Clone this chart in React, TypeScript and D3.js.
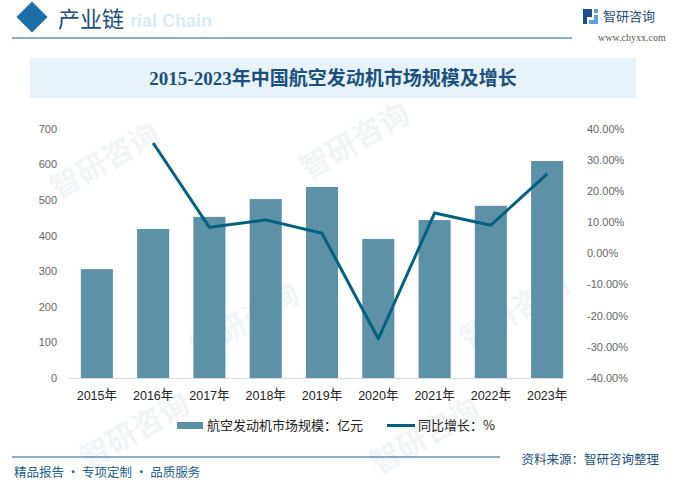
import { useEffect, useRef } from "react";
import * as d3 from "d3";

const YEARS = ["2015年", "2016年", "2017年", "2018年", "2019年", "2020年", "2021年", "2022年", "2023年"];
const MARKET = [306, 419, 453, 503, 537, 391, 444, 484, 610];
const GROWTH: (number | null)[] = [null, 35.5, 8.4, 10.8, 6.5, -27.4, 13.0, 9.1, 25.6];
const LEFT_TICKS = [0, 100, 200, 300, 400, 500, 600, 700];
const RIGHT_TICKS = [-40, -30, -20, -10, 0, 10, 20, 30, 40];

const TITLE = "2015-2023年中国航空发动机市场规模及增长";
const BAR_LABEL = "航空发动机市场规模：亿元";
const LINE_LABEL = "同比增长：%";

const BAR_COLOR = "#5d91a8";
const LINE_COLOR = "#02617f";
const SANS = "'Liberation Sans', 'Noto Sans CJK SC', sans-serif";
const CJK = "'Noto Sans CJK SC', sans-serif";

export default function App() {
  const svgRef = useRef<SVGSVGElement>(null);

  useEffect(() => {
    if (!svgRef.current) return;
    const svg = d3.select(svgRef.current);
    svg.selectAll("*").remove();

    const W = 678;
    const H = 493;
    svg.append("rect").attr("width", W).attr("height", H).attr("fill", "#fff");

    // faint watermarks
    const wm = svg.append("g");
    [
      [110, 170], [360, 150], [250, 330], [520, 320], [140, 440], [430, 445],
    ].forEach(([x, y]) => {
      wm.append("text")
        .attr("transform", `translate(${x},${y}) rotate(-30)`)
        .attr("text-anchor", "middle")
        .attr("font-family", CJK)
        .attr("font-size", 30)
        .attr("font-weight", 700)
        .attr("fill", "#f2f5f8")
        .text("智研咨询");
    });

    // header
    svg.append("rect")
      .attr("x", 21).attr("y", 6).attr("width", 22).attr("height", 22)
      .attr("transform", "rotate(45 32 17)")
      .attr("fill", "#1b6ea6");
    svg.append("text")
      .attr("x", 130).attr("y", 27)
      .attr("font-family", SANS).attr("font-size", 18).attr("font-weight", 700)
      .attr("fill", "#d9ebf7")
      .text("rial Chain");
    svg.append("text")
      .attr("x", 58).attr("y", 27)
      .attr("font-family", CJK).attr("font-size", 22)
      .attr("fill", "#1d4f7a")
      .text("产业链");
    svg.append("line")
      .attr("x1", 12).attr("x2", 572).attr("y1", 38).attr("y2", 38)
      .attr("stroke", "#1d5f8a").attr("stroke-width", 1.2);

    // logo
    const logo = svg.append("g").attr("transform", "translate(583,9)");
    logo.append("path").attr("d", "M0,0 H9 V8 H4 V15 H0 Z").attr("fill", "#1f4e8c");
    logo.append("path").attr("d", "M11,0 H15 V4 H11 Z M11,6 H15 V15 H6 V11 H11 Z").attr("fill", "#5aa6dc");
    svg.append("text")
      .attr("x", 603).attr("y", 21)
      .attr("font-family", CJK).attr("font-size", 13)
      .attr("fill", "#1d4f7a")
      .text("智研咨询");
    svg.append("text")
      .attr("x", 598).attr("y", 41)
      .attr("font-family", "'Liberation Serif', serif").attr("font-size", 10)
      .attr("fill", "#555")
      .text("www.chyxx.com");

    // title band
    svg.append("rect")
      .attr("x", 30).attr("y", 58).attr("width", 606).attr("height", 40)
      .attr("fill", "#e6f3fb");
    svg.append("text")
      .attr("x", 333).attr("y", 85)
      .attr("text-anchor", "middle")
      .attr("font-family", "'Liberation Serif', 'Noto Sans CJK SC', serif")
      .attr("font-size", 19)
      .attr("font-weight", 700)
      .attr("fill", "#1c4f7c")
      .text(TITLE);

    // scales
    const x = d3.scaleBand<string>().domain(YEARS).range([69, 575]).paddingInner(0.43).paddingOuter(0.21);
    const yL = d3.scaleLinear().domain([0, 700]).range([378, 129]);
    const yR = d3.scaleLinear().domain([-40, 40]).range([378, 129]);

    // left axis labels
    svg.append("g").selectAll("text").data(LEFT_TICKS).enter().append("text")
      .attr("x", 57).attr("y", (d) => yL(d))
      .attr("dy", "0.35em")
      .attr("text-anchor", "end")
      .attr("font-family", SANS).attr("font-size", 11)
      .attr("fill", "#666")
      .text((d) => String(d));

    // right axis labels
    svg.append("g").selectAll("text").data(RIGHT_TICKS).enter().append("text")
      .attr("x", 587).attr("y", (d) => yR(d))
      .attr("dy", "0.35em")
      .attr("text-anchor", "start")
      .attr("font-family", SANS).attr("font-size", 11)
      .attr("fill", "#666")
      .text((d) => `${d.toFixed(2)}%`);

    // bars
    svg.append("g").selectAll("rect").data(YEARS).enter().append("rect")
      .attr("x", (d) => x(d)!)
      .attr("width", x.bandwidth())
      .attr("y", (_, i) => yL(MARKET[i]))
      .attr("height", (_, i) => yL(0) - yL(MARKET[i]))
      .attr("fill", BAR_COLOR);

    // category axis
    svg.append("line")
      .attr("x1", 67).attr("x2", x(YEARS[YEARS.length - 1])! + x.bandwidth())
      .attr("y1", yL(0) + 0.5).attr("y2", yL(0) + 0.5)
      .attr("stroke", "#d9d9d9").attr("stroke-width", 1);
    svg.append("g").selectAll("line").data(YEARS).enter().append("line")
      .attr("x1", (d) => x(d)! + x.bandwidth() / 2 + 11)
      .attr("x2", (d) => x(d)! + x.bandwidth() / 2 + 11)
      .attr("y1", 387).attr("y2", 391)
      .attr("stroke", "#444").attr("stroke-width", 0.8);
    svg.append("g").selectAll("text").data(YEARS).enter().append("text")
      .attr("x", (d) => x(d)! + x.bandwidth() / 2)
      .attr("y", 396)
      .attr("dy", "0.35em")
      .attr("text-anchor", "middle")
      .attr("font-family", SANS).attr("font-size", 12.5)
      .attr("fill", "#222")
      .text((d) => d);

    // growth line
    const line = d3.line<number | null>()
      .defined((d) => d !== null)
      .x((_, i) => x(YEARS[i])! + x.bandwidth() / 2)
      .y((d) => yR(d as number));
    svg.append("path")
      .datum(GROWTH)
      .attr("d", line)
      .attr("fill", "none")
      .attr("stroke", LINE_COLOR)
      .attr("stroke-width", 3)
      .attr("stroke-linejoin", "round");

    // legend
    svg.append("rect")
      .attr("x", 177).attr("y", 422).attr("width", 26).attr("height", 7)
      .attr("fill", BAR_COLOR);
    svg.append("text")
      .attr("x", 207).attr("y", 425.5).attr("dy", "0.35em")
      .attr("font-family", CJK).attr("font-size", 13)
      .attr("fill", "#222")
      .text(BAR_LABEL);
    svg.append("line")
      .attr("x1", 387).attr("x2", 415).attr("y1", 425.5).attr("y2", 425.5)
      .attr("stroke", LINE_COLOR).attr("stroke-width", 3);
    svg.append("text")
      .attr("x", 418).attr("y", 425.5).attr("dy", "0.35em")
      .attr("font-family", CJK).attr("font-size", 13)
      .attr("fill", "#222")
      .text(LINE_LABEL);

    // footer
    svg.append("line")
      .attr("x1", 12).attr("x2", 500).attr("y1", 457).attr("y2", 457)
      .attr("stroke", "#1d5f8a").attr("stroke-width", 1.2);
    svg.append("text")
      .attr("x", 659).attr("y", 460).attr("dy", "0.35em")
      .attr("text-anchor", "end")
      .attr("font-family", CJK).attr("font-size", 12.5)
      .attr("fill", "#1d4f7a")
      .text("资料来源：智研咨询整理");
    svg.append("text")
      .attr("x", 14).attr("y", 473).attr("dy", "0.35em")
      .attr("font-family", CJK).attr("font-size", 12.5)
      .attr("fill", "#1d5f8a")
      .text("精品报告 · 专项定制 · 品质服务");
  }, []);

  return (
    <svg
      ref={svgRef}
      width={678}
      height={493}
      style={{ position: "absolute", left: 0, top: 0, display: "block" }}
    />
  );
}
